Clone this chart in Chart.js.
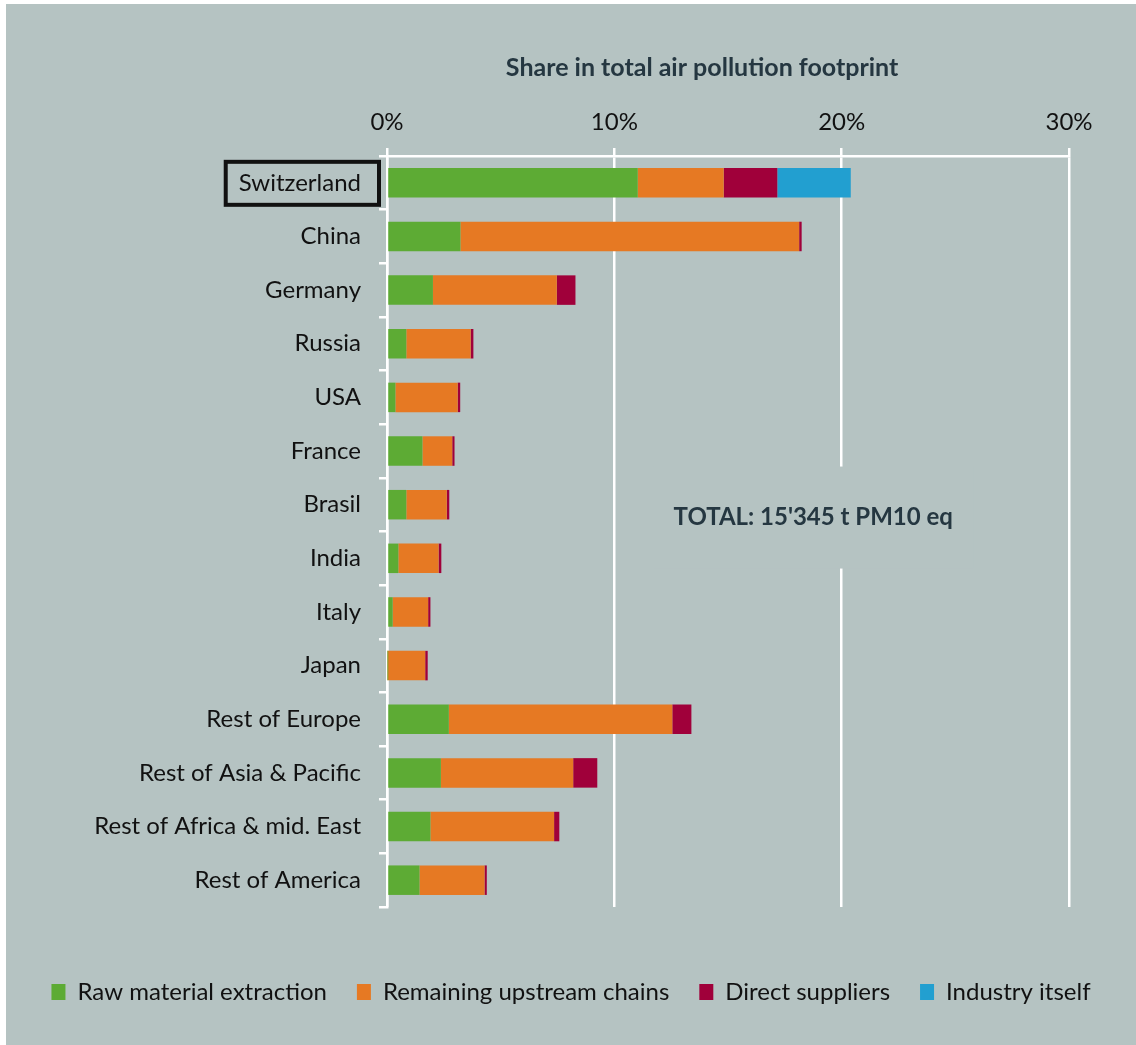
<!DOCTYPE html>
<html>
<head>
<meta charset="utf-8">
<script src="https://cdn.jsdelivr.net/npm/chart.js@4"></script>
<style>
  html, body { margin: 0; padding: 0; background: #ffffff; }
  #panel { position: absolute; left: 6px; top: 4px; width: 1130px; height: 1041px; background: #b5c3c2; }
</style>
</head>
<body>
<div id="panel"><canvas id="airPollution"></canvas></div>
<script>
const countries = ['Switzerland', 'China', 'Germany', 'Russia', 'USA', 'France', 'Brasil', 'India', 'Italy', 'Japan',
    'Rest of Europe', 'Rest of Asia & Pacific', 'Rest of Africa & mid. East', 'Rest of America'];

// share in total air pollution footprint, in %
const rawMaterial = [11.03, 3.23, 2.02, 0.85, 0.37, 1.56, 0.85, 0.50, 0.25, 0.02, 2.72, 2.37, 1.91, 1.43];
const upstreamChains = [3.78, 14.90, 5.45, 2.83, 2.74, 1.31, 1.78, 1.77, 1.56, 1.66, 9.83, 5.82, 5.44, 2.86];
const directSuppliers = [2.36, 0.11, 0.82, 0.12, 0.11, 0.10, 0.11, 0.12, 0.10, 0.11, 0.84, 1.06, 0.23, 0.10];
const industryItself = [3.23, 0, 0, 0, 0, 0, 0, 0, 0, 0, 0, 0, 0, 0];

const xTicks = [0, 10, 20, 30];
const axisTitle = 'Share in total air pollution footprint';
const totalNote = "TOTAL: 15'345 t PM10 eq";
const highlighted = 'Switzerland';

const panelColor = '#b5c3c2';
const darkText = '#253741';
const fontFamily = 'Lato, "Open Sans", sans-serif';

// axis title, total note and the box round Switzerland
const annotations = {
    id: 'annotations',
    afterDraw(chart) {
        const ctx = chart.ctx;
        const xScale = chart.scales.x;
        const yScale = chart.scales.y;
        ctx.save();

        ctx.font = 'bold 25px ' + fontFamily;
        ctx.fillStyle = darkText;
        ctx.textAlign = 'center';
        ctx.textBaseline = 'middle';
        ctx.fillText(axisTitle, xScale.getPixelForValue(13.86), 64);

        const noteX = xScale.getPixelForValue(18.75);
        const noteY = yScale.getPixelForValue(6.24);
        ctx.fillStyle = panelColor;
        ctx.fillRect(noteX - 160, noteY - 51, 320, 102);
        ctx.fillStyle = darkText;
        ctx.font = 'bold 24px ' + fontFamily;
        ctx.fillText(totalNote, noteX, noteY);

        ctx.font = '24px ' + fontFamily;
        const idx = countries.indexOf(highlighted);
        const textW = ctx.measureText(highlighted).width;
        const right = yScale.right - 8;
        const left = right - 18 - textW - 13;
        const cy = yScale.getPixelForValue(idx);
        ctx.strokeStyle = '#111111';
        ctx.lineWidth = 4;
        ctx.strokeRect(left, cy - 21, right - left, 43);
        ctx.restore();
    }
};

const canvasContext = document.getElementById('airPollution').getContext('2d');
const airChart = new Chart(canvasContext, {
    type: 'bar',
    data: {
        labels: countries,
        datasets: [
            { label: 'Raw material extraction', data: rawMaterial, backgroundColor: '#5dab34' },
            { label: 'Remaining upstream chains', data: upstreamChains, backgroundColor: '#e67923' },
            { label: 'Direct suppliers', data: directSuppliers, backgroundColor: '#a0003a' },
            { label: 'Industry itself', data: industryItself, backgroundColor: '#229fd0' }
        ]
    },
    options: {
        indexAxis: 'y',
        responsive: true,
        maintainAspectRatio: false,
        animation: false,
        barPercentage: 0.55,
        categoryPercentage: 1,
        layout: { padding: { left: 0, top: 0, right: 0, bottom: 31 } },
        scales: {
            x: {
                position: 'top',
                stacked: true,
                min: 0,
                max: 30,
                afterFit: (scale) => { scale.height = 152; },
                afterBuildTicks: (scale) => { scale.ticks = xTicks.map(v => ({ value: v })); },
                ticks: {
                    padding: 11,
                    color: '#111111',
                    font: { family: fontFamily, size: 24 },
                    callback: (v) => v + '%'
                },
                grid: { color: '#ffffff', lineWidth: 2.5, tickLength: 8 },
                border: { color: '#ffffff', width: 2.5 }
            },
            y: {
                stacked: true,
                afterFit: (scale) => { scale.width = 381; },
                ticks: {
                    padding: 18,
                    color: '#111111',
                    font: { family: fontFamily, size: 24 }
                },
                grid: {
                    offset: true,
                    lineWidth: 2.5,
                    tickLength: 8,
                    tickColor: '#ffffff',
                    color: (c) => (c.index === countries.length ? '#ffffff' : 'rgba(0,0,0,0)')
                },
                border: { color: '#ffffff', width: 2.5 }
            },
            // empty margin on the right of the plot, keeps the legend full width
            rightMargin: {
                type: 'linear',
                position: 'right',
                ticks: { display: false },
                grid: { display: false },
                border: { display: false },
                afterFit: (scale) => { scale.width = 67; }
            }
        },
        plugins: {
            tooltip: { enabled: false },
            legend: {
                position: 'bottom',
                title: { display: true, text: '', font: { size: 10 }, padding: { top: 31, bottom: 0 } },
                labels: {
                    boxWidth: 14,
                    boxHeight: 16,
                    padding: 30,
                    color: '#111111',
                    font: { family: fontFamily, size: 24 }
                }
            }
        }
    },
    plugins: [annotations]
});
</script>
</body>
</html>
